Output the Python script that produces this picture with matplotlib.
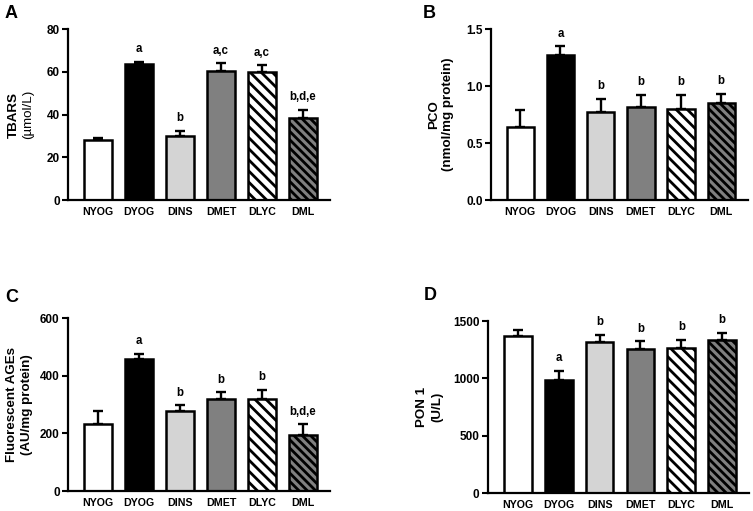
import matplotlib
matplotlib.use("Agg")
import matplotlib.pyplot as plt
import numpy as np

plt.rcParams['font.family'] = ['Liberation Sans', 'DejaVu Sans']
plt.rcParams['hatch.linewidth'] = 2.0

groups = ["NYOG", "DYOG", "DINS", "DMET", "DLYC", "DML"]

tbars_mean = [28.0, 63.5, 29.8, 60.5, 59.8, 38.5]
tbars_err = [0.9, 1.2, 2.5, 3.4, 3.2, 3.6]
tbars_sig = ["", "a", "b", "a,c", "a,c", "b,d,e"]

pco_mean = [0.638, 1.274, 0.776, 0.816, 0.800, 0.850]
pco_err = [0.149, 0.073, 0.110, 0.108, 0.120, 0.080]
pco_sig = ["", "a", "b", "b", "b", "b"]

ages_mean = [233, 458, 278, 320, 320, 193]
ages_err = [43, 17, 19, 22, 31, 38]
ages_sig = ["", "a", "b", "b", "b", "b,d,e"]

pon_mean = [1366, 983, 1320, 1259, 1265, 1331]
pon_err = [58, 84, 61, 64, 69, 64]
pon_sig = ["", "a", "b", "b", "b", "b"]

face_colors = ["white", "black", "#d4d4d4", "#808080", "white", "#808080"]
hatches = [None, None, None, None, "\\\\\\", "\\\\\\\\"]

W, H = 753, 511
fig = plt.figure(figsize=(W / 100, H / 100), dpi=100)

panels = [
    dict(rect=[0.0903, 0.6086, 0.348, 0.3346], mean=tbars_mean, err=tbars_err, sig=tbars_sig,
         ylim=80, yticks=[0, 20, 40, 60, 80], fmt="{:g}", l1="TBARS", l2="(\u00b5mol/L)", w2="normal",
         x1=14, x2=28, letter="A", lx=5, ly=14),
    dict(rect=[0.652, 0.6086, 0.341, 0.3346], mean=pco_mean, err=pco_err, sig=pco_sig,
         ylim=1.5, yticks=[0, 0.5, 1.0, 1.5], fmt="{:.1f}", l1="PCO", l2="(nmol/mg protein)", w2="bold",
         x1=434, x2=448, letter="B", lx=423, ly=14),
    dict(rect=[0.0903, 0.039, 0.348, 0.3386], mean=ages_mean, err=ages_err, sig=ages_sig,
         ylim=600, yticks=[0, 200, 400, 600], fmt="{:g}", l1="Fluorescent AGEs", l2="(AU/mg protein)", w2="bold",
         x1=12, x2=27, letter="C", lx=5, ly=297),
    dict(rect=[0.648, 0.035, 0.347, 0.3366], mean=pon_mean, err=pon_err, sig=pon_sig,
         ylim=1500, yticks=[0, 500, 1000, 1500], fmt="{:g}", l1="PON 1", l2="(U/L)", w2="bold",
         x1=422, x2=437, letter="D", lx=424, ly=296),
]

x = np.arange(len(groups))
for p in panels:
    ax = fig.add_axes(p["rect"])
    for i in range(len(groups)):
        ax.errorbar(x[i], p["mean"][i], yerr=[[0], [p["err"][i]]], fmt="none",
                    ecolor="black", elinewidth=1.7, capsize=3.8, capthick=1.7, zorder=1)
        ax.bar(x[i], p["mean"][i], width=0.68, color=face_colors[i], edgecolor="black",
               linewidth=1.8, hatch=hatches[i], zorder=2)
        if p["sig"][i]:
            ax.text(x[i], p["mean"][i] + p["err"][i] + p["ylim"] * 0.04, p["sig"][i],
                    ha="center", va="bottom", fontsize=8.3, fontweight="bold")
    ax.set_xlim(-0.73, 5.66)
    ax.set_ylim(0, p["ylim"])
    ax.set_yticks(p["yticks"])
    ax.set_yticklabels([p["fmt"].format(t) for t in p["yticks"]], fontsize=8.5, fontweight="bold")
    ax.set_xticks(x)
    ax.set_xticklabels(groups, fontsize=7.7, fontweight="bold")
    ax.tick_params(axis="x", length=0, pad=5)
    ax.tick_params(axis="y", length=4, width=1.5, pad=2)
    for s in ["top", "right"]:
        ax.spines[s].set_visible(False)
    for s in ["left", "bottom"]:
        ax.spines[s].set_linewidth(1.6)
    bb = p["rect"]
    yc = bb[1] + bb[3] * 0.5
    fig.text(p["x1"] / W, yc, p["l1"], rotation=90, ha="center", va="center",
             fontsize=9.6, fontweight="bold")
    fig.text(p["x2"] / W, yc, p["l2"], rotation=90, ha="center", va="center",
             fontsize=9.6, fontweight=p["w2"])
    fig.text(p["lx"] / W, 1 - p["ly"] / H, p["letter"], fontsize=13, fontweight="bold",
             ha="left", va="center")

fig.savefig("out.png", dpi=100)
